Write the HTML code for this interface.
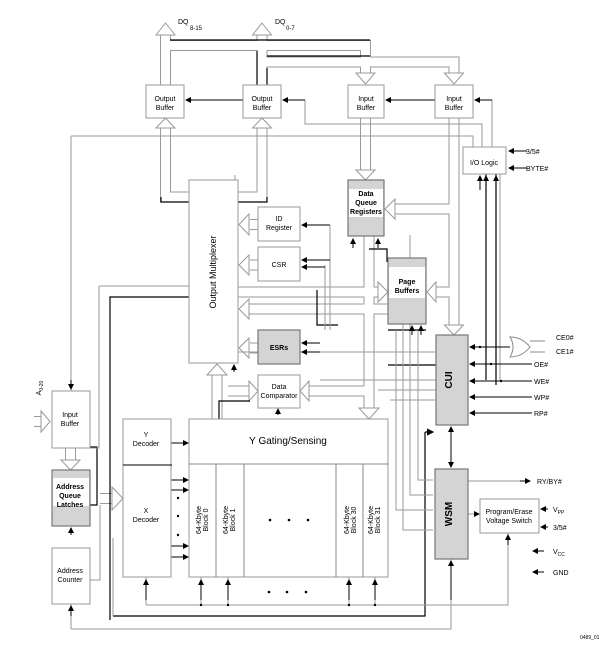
<!DOCTYPE html>
<html><head><meta charset="utf-8"><style>
body{margin:0;background:#fff}
svg{display:block;font-family:"Liberation Sans",sans-serif}
.bo{fill:none;stroke:#9a9a9a;stroke-width:11}
.bi{fill:none;stroke:#fff;stroke-width:9}
.ha{fill:#fff;stroke:#9a9a9a;stroke-width:1}
.bx{fill:#fff;stroke:#9a9a9a;stroke-width:1}
.gb{fill:#d4d4d4;stroke:#777;stroke-width:1.2}
.k{fill:none;stroke:#000;stroke-width:1.2}
.g{fill:none;stroke:#9a9a9a;stroke-width:1}
.t{font-size:7px;text-anchor:middle}
.tb{font-size:7px;text-anchor:middle;font-weight:bold}
</style></head><body>
<svg width="604" height="656" viewBox="0 0 604 656" xmlns="http://www.w3.org/2000/svg">
<defs><marker id="a" markerWidth="6" markerHeight="6" refX="5" refY="3" orient="auto"><path d="M0,0 L6,3 L0,6z" fill="#000"/></marker></defs>

<g class="bo">
<path d="M165.5,85V32"/><path d="M262,85V32"/>
<path d="M165.5,45.5H365.5V75"/><path d="M262,62H454V75"/>
<path d="M165.5,128V197H189"/><path d="M262,128V197H238"/>
<path d="M365.5,118V172"/><path d="M454,118V327"/>
<path d="M454,209H392"/><path d="M454,292H432"/>
<path d="M238,292H380"/><path d="M388,309H246"/>
<path d="M250,224.5H258"/><path d="M250,265H258"/><path d="M250,348H258"/>
<path d="M369,236V410"/>
<path d="M217,419V372"/>
<path d="M228,391H250"/><path d="M308,391H369"/>
<path d="M70.5,448V462"/><path d="M100,498.5H115"/><path d="M34,421.5H42"/>
</g>
<g class="bi">
<path d="M165.5,85V32"/><path d="M262,85V32"/>
<path d="M165.5,45.5H365.5V75"/><path d="M262,62H454V75"/>
<path d="M165.5,128V197H189"/><path d="M262,128V197H238"/>
<path d="M365.5,118V172"/><path d="M454,118V327"/>
<path d="M454,209H392"/><path d="M454,292H432"/>
<path d="M238,292H380"/><path d="M388,309H246"/>
<path d="M250,224.5H258"/><path d="M250,265H258"/><path d="M250,348H258"/>
<path d="M369,236V410"/>
<path d="M217,419V372"/>
<path d="M228,391H250"/><path d="M308,391H369"/>
<path d="M70.5,448V462"/><path d="M100,498.5H115"/><path d="M34,421.5H42"/>
</g>
<g class="ha">
<path d="M156,35L165.5,23L175,35z"/><path d="M252.5,35L262,23L271.5,35z"/>
<path d="M156,128L165.5,118L175,128z"/><path d="M252.5,128L262,118L271.5,128z"/>
<path d="M356,73L365.5,84L375,73z"/><path d="M444.5,73L454,84L463.5,73z"/>
<path d="M356,170L365.5,180L375,170z"/><path d="M444.5,325L454,335L463.5,325z"/>
<path d="M395,199L385,209L395,219z"/><path d="M436,282L427,292L436,302z"/>
<path d="M378,282L388,292L378,302z"/><path d="M249,299L239,309L249,319z"/>
<path d="M249,214L239,224.5L249,235z"/><path d="M249,255L239,265L249,275z"/><path d="M249,338L239,348L249,358z"/>
<path d="M359,408L369,419L379,408z"/><path d="M207,375L217,364L227,375z"/>
<path d="M249,381L258,391L249,401z"/><path d="M309,381L300,391L309,401z"/>
<path d="M61,460L70.5,470L80,460z"/><path d="M112,487L123,498.5L112,510z"/>
<path d="M41,411L50,421.5L41,432z"/>
</g>
<g class="k">
<path d="M170,40H370"/><path d="M267,56H370"/><path d="M267,68V85"/><path d="M257,51V85"/>
<path d="M161,197V202H189"/><path d="M267,197V202H238"/>
<path d="M219,419V401H250"/>
<path d="M110,620V297H189"/>
<path d="M90,505H97V447H90"/>
<path d="M113,616H425V432"/><path d="M425,432H433" marker-end="url(#a)"/>
<path d="M369,249H387V262"/>
<path d="M388,330H426"/>
<path d="M317,290V325H338"/>
<path d="M496,174V385"/><path d="M486,174V380"/>
<path d="M388,365H436"/>
</g>
<g class="g">
<path d="M71,136H473V147"/><path d="M71,136V391"/>
<path d="M305,100V124H482V147"/>
<path d="M492,147V100H475"/>
<path d="M99,286H189"/><path d="M99,286V448H90"/>
<path d="M90,580H100V505"/>
<path d="M113,616V538"/>
<path d="M71,629H451V559"/><path d="M71,629V604"/>
<path d="M146,605H508V533"/>
<path d="M201,605V577"/><path d="M228,605V577"/><path d="M349,605V577"/><path d="M375,605V577"/><path d="M146,605V577"/>
<path d="M403,321V530H433"/><path d="M396,330V510H433"/>
<path d="M410,235V495H433"/><path d="M418,330V480H433"/>
<path d="M330,225V330"/><path d="M325,265V330"/>
<path d="M235,352H436"/><path d="M320,380H436"/>
<path d="M378,390H436"/><path d="M390,400H436"/>
<path d="M468,481H530"/><path d="M468,514H478"/>
<path d="M500,380V174"/>
<path d="M235,175V362"/>
</g>
<g stroke="#000" stroke-width="1" fill="none">
<path d="M243,100H186" marker-end="url(#a)"/><path d="M305,100H283" marker-end="url(#a)"/>
<path d="M435,100H386" marker-end="url(#a)"/><path d="M492,100H475" marker-end="url(#a)"/>
<path d="M330,225H302" marker-end="url(#a)"/><path d="M330,260H302" marker-end="url(#a)"/><path d="M325,267H302" marker-end="url(#a)"/>
<path d="M320,343H302" marker-end="url(#a)"/><path d="M320,352H302" marker-end="url(#a)"/>
<path d="M71,380V389" marker-end="url(#a)"/>
<path d="M480,190V176" marker-end="url(#a)"/><path d="M486,190V176" marker-end="url(#a)"/><path d="M496,190V176" marker-end="url(#a)"/>
<path d="M527,151H509" marker-end="url(#a)"/><path d="M527,168H509" marker-end="url(#a)"/>
<path d="M510,347H470" marker-end="url(#a)"/><path d="M532,364H470" marker-end="url(#a)"/><path d="M532,381H470" marker-end="url(#a)"/>
<path d="M532,397H470" marker-end="url(#a)"/><path d="M532,413H470" marker-end="url(#a)"/>
<path d="M451,440V427" marker-end="url(#a)"/><path d="M451,440V467" marker-end="url(#a)"/>
<path d="M520,481H530" marker-end="url(#a)"/><path d="M474,514H479" marker-end="url(#a)"/>
<path d="M548,509H541" marker-end="url(#a)"/><path d="M548,527H541" marker-end="url(#a)"/>
<path d="M544,551H533" marker-end="url(#a)"/><path d="M544,572H533" marker-end="url(#a)"/>
<path d="M508,545V535" marker-end="url(#a)"/>
<path d="M451,600V561" marker-end="url(#a)"/><path d="M71,616V606" marker-end="url(#a)"/>
<path d="M71,535V528" marker-end="url(#a)"/>
<path d="M146,600V580" marker-end="url(#a)"/><path d="M201,600V580" marker-end="url(#a)"/><path d="M228,600V580" marker-end="url(#a)"/>
<path d="M349,600V580" marker-end="url(#a)"/><path d="M375,600V580" marker-end="url(#a)"/>
<path d="M171,443H188" marker-end="url(#a)"/><path d="M171,480H188" marker-end="url(#a)"/><path d="M171,490H188" marker-end="url(#a)"/>
<path d="M171,546H188" marker-end="url(#a)"/><path d="M171,557H188" marker-end="url(#a)"/>
<path d="M278,415V409" marker-end="url(#a)"/>
<path d="M353,248V239" marker-end="url(#a)"/><path d="M378,248V239" marker-end="url(#a)"/>
<path d="M412,335V326" marker-end="url(#a)"/><path d="M421,335V326" marker-end="url(#a)"/>
<path d="M234,372V365" marker-end="url(#a)"/>
</g>
<path d="M510,337Q522,337 530,347Q522,357 510,357Q516,347 510,337z" fill="#fff" stroke="#888"/>
<path d="M530,341H545M530,352H545" stroke="#888"/>

<rect class="bx" x="146" y="85" width="38" height="33"/>
<rect class="bx" x="243" y="85" width="38" height="33"/>
<rect class="bx" x="348" y="85" width="36" height="33"/>
<rect class="bx" x="435" y="85" width="38" height="33"/>
<rect class="bx" x="463" y="147" width="43" height="27"/>
<rect class="bx" x="189" y="180" width="49" height="183"/>
<rect class="bx" x="258" y="207" width="42" height="34"/>
<rect class="bx" x="258" y="247" width="42" height="34"/>
<rect class="gb" x="348" y="180" width="36" height="56"/><rect x="349" y="189" width="34" height="28" fill="#fff"/>
<rect class="gb" x="388" y="258" width="38" height="66"/><rect x="389" y="267" width="36" height="31" fill="#fff"/>
<rect class="gb" x="258" y="330" width="42" height="34"/>
<rect class="bx" x="258" y="375" width="42" height="33"/>
<rect class="gb" x="436" y="335" width="32" height="90"/>
<rect class="gb" x="435" y="469" width="33" height="90"/>
<rect class="bx" x="480" y="499" width="59" height="34"/>
<rect class="bx" x="189" y="419" width="199" height="158"/>
<path d="M189,464H388M216,464V577M244,464V577M336,464V577M363,464V577" stroke="#888" fill="none"/>
<rect class="bx" x="123" y="419" width="48" height="158"/><path d="M123,465H172" stroke="#000"/>
<rect class="bx" x="52" y="391" width="38" height="57"/>
<rect class="gb" x="52" y="470" width="38" height="56"/><rect x="53" y="478" width="36" height="28" fill="#fff"/>
<rect class="bx" x="52" y="548" width="38" height="56"/>

<g class="t">
<text x="165" y="101">Output</text><text x="165" y="110">Buffer</text>
<text x="262" y="101">Output</text><text x="262" y="110">Buffer</text>
<text x="366" y="101">Input</text><text x="366" y="110">Buffer</text>
<text x="454" y="101">Input</text><text x="454" y="110">Buffer</text>
<text x="484" y="165">I/O Logic</text>
<text x="279" y="221">ID</text><text x="279" y="230">Register</text>
<text x="279" y="267">CSR</text>
<text x="279" y="389">Data</text><text x="279" y="398">Comparator</text>
<text x="146" y="437">Y</text><text x="146" y="446">Decoder</text>
<text x="146" y="513">X</text><text x="146" y="522">Decoder</text>
<text x="70" y="417">Input</text><text x="70" y="426">Buffer</text>
<text x="70" y="573">Address</text><text x="70" y="582">Counter</text>
<text x="509" y="514">Program/Erase</text><text x="509" y="523">Voltage Switch</text>
</g>
<g class="tb">
<text x="366" y="196">Data</text><text x="366" y="205">Queue</text><text x="366" y="214">Registers</text>
<text x="407" y="284">Page</text><text x="407" y="293">Buffers</text>
<text x="279" y="350">ESRs</text>
<text x="70" y="489">Address</text><text x="70" y="498">Queue</text><text x="70" y="507">Latches</text>
</g>
<text x="452" y="380" font-size="10" font-weight="bold" text-anchor="middle" transform="rotate(-90 452 380)">CUI</text>
<text x="452" y="514" font-size="10" font-weight="bold" text-anchor="middle" transform="rotate(-90 452 514)">WSM</text>
<text x="216" y="272" font-size="9" text-anchor="middle" transform="rotate(-90 216 272)">Output Multiplexer</text>
<text x="288" y="444" font-size="10" text-anchor="middle">Y Gating/Sensing</text>
<g font-size="7" text-anchor="middle">
<text transform="translate(201,520) rotate(-90)">64-Kbyte</text><text transform="translate(208,520) rotate(-90)">Block 0</text>
<text transform="translate(228,520) rotate(-90)">64-Kbyte</text><text transform="translate(235,520) rotate(-90)">Block 1</text>
<text transform="translate(349,520) rotate(-90)">64-Kbyte</text><text transform="translate(356,520) rotate(-90)">Block 30</text>
<text transform="translate(373,520) rotate(-90)">64-Kbyte</text><text transform="translate(380,520) rotate(-90)">Block 31</text>
<text transform="translate(41,388) rotate(-90)">A<tspan font-size="5" dy="2">0-20</tspan></text>
</g>
<g font-size="7">
<text x="178" y="24">DQ</text><text x="190" y="30" font-size="6">8-15</text>
<text x="275" y="24">DQ</text><text x="286" y="30" font-size="6">0-7</text>
<text x="526" y="154">3/5#</text><text x="526" y="171">BYTE#</text>
<text x="556" y="340">CE0#</text><text x="556" y="354">CE1#</text>
<text x="534" y="367">OE#</text><text x="534" y="384">WE#</text><text x="534" y="400">WP#</text><text x="534" y="416">RP#</text>
<text x="537" y="484">RY/BY#</text>
<text x="553" y="512">V<tspan font-size="5" dy="2">PP</tspan></text><text x="553" y="530">3/5#</text>
<text x="553" y="554">V<tspan font-size="5" dy="2">CC</tspan></text><text x="553" y="575">GND</text>
<text x="580" y="639" font-size="5">0489_01</text>
</g>
<g fill="#000">
<circle cx="270" cy="520" r="1.3"/><circle cx="289" cy="520" r="1.3"/><circle cx="308" cy="520" r="1.3"/>
<circle cx="269" cy="592" r="1.3"/><circle cx="287" cy="592" r="1.3"/><circle cx="306" cy="592" r="1.3"/>
<circle cx="178" cy="498" r="1.2"/><circle cx="178" cy="516" r="1.2"/><circle cx="178" cy="535" r="1.2"/>
<circle cx="201" cy="605" r="1.2"/><circle cx="228" cy="605" r="1.2"/><circle cx="349" cy="605" r="1.2"/><circle cx="375" cy="605" r="1.2"/>
<circle cx="480" cy="347" r="1.2"/><circle cx="491" cy="364" r="1.2"/><circle cx="501" cy="381" r="1.2"/>
</g>
</svg>
</body></html>
